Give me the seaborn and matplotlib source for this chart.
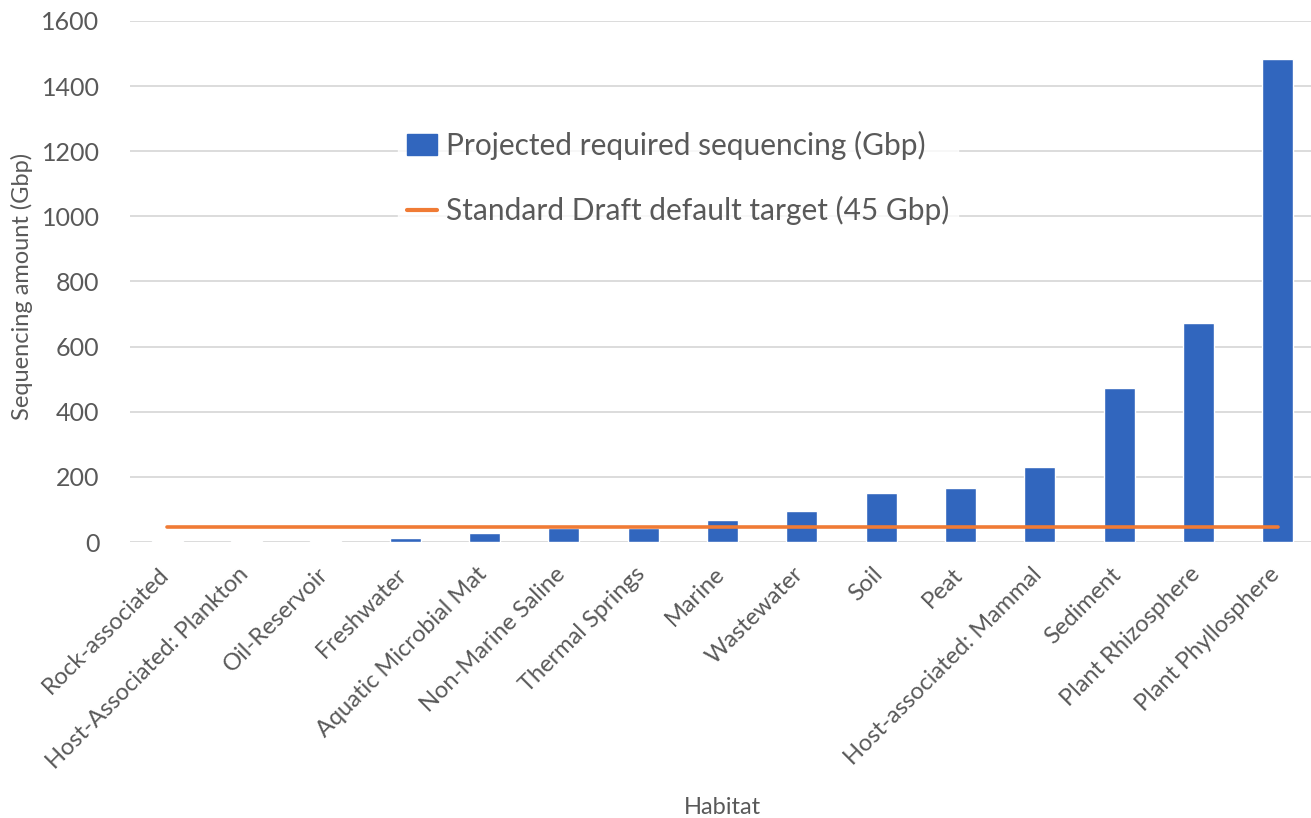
import matplotlib
matplotlib.use("Agg")
import matplotlib.pyplot as plt
import matplotlib.transforms as mtransforms
import seaborn as sns
import pandas as pd
from matplotlib.patches import Patch
from matplotlib.lines import Line2D

# ── Data ──────────────────────────────────────────────────────
habitats = [
    "Rock-associated", "Host-Associated: Plankton", "Oil-Reservoir",
    "Freshwater", "Aquatic Microbial Mat", "Non-Marine Saline",
    "Thermal Springs", "Marine", "Wastewater", "Soil", "Peat",
    "Host-associated: Mammal", "Sediment", "Plant Rhizosphere",
    "Plant Phyllosphere",
]
required_gbp = [3, 3, 3, 12, 28, 43, 44, 69, 94, 151, 166, 230, 474, 674, 1484]
target_gbp = [45] * len(habitats)

BAR_BLUE = "#3166BE"
LINE_ORANGE = "#F07B35"
TEXT_GREY = "#595959"
GRID_GREY = "#D9D9D9"

df = pd.DataFrame({"Habitat": habitats, "Required": required_gbp,
                   "Target": target_gbp})

sns.set_theme(style="white")
plt.rcParams["font.family"] = ["Lato", "DejaVu Sans"]

fig = plt.figure(figsize=(13.11, 8.18), dpi=100)
ax = fig.add_axes([0.0992, 0.3374, 0.9008, 0.637])

sns.barplot(data=df, x="Habitat", y="Required", color=BAR_BLUE,
            width=0.39, saturation=1, ax=ax, zorder=3)
sns.lineplot(data=df, x="Habitat", y="Target", color=LINE_ORANGE,
             linewidth=2.6, ax=ax, zorder=4, sort=False)

ax.set_ylim(0, 1600)
ax.set_xlim(-0.47, 14.42)
ax.set_yticks(range(0, 1601, 200))
ax.yaxis.grid(True, color=GRID_GREY, linewidth=1.3, zorder=0)
ax.set_axisbelow(True)
for s in ax.spines.values():
    s.set_visible(False)

ax.tick_params(axis="y", colors=TEXT_GREY, labelsize=18, length=0, pad=22)
ax.tick_params(axis="x", colors=TEXT_GREY, labelsize=17, length=0, pad=14)
shift = mtransforms.ScaledTranslation(-0.09, -0.02, fig.dpi_scale_trans)
for lbl in ax.get_xticklabels():
    lbl.set_rotation(45)
    lbl.set_ha("right")
    lbl.set_rotation_mode("anchor")
    lbl.set_transform(lbl.get_transform() + shift)

ax.set_ylabel("Sequencing amount (Gbp)", color=TEXT_GREY, fontsize=17)
ax.set_xlabel("Habitat", color=TEXT_GREY, fontsize=17)
ax.xaxis.set_label_coords(0.502, -0.49)
ax.yaxis.set_label_coords(-0.082, 0.49)

handles = [
    Patch(facecolor=BAR_BLUE, edgecolor=BAR_BLUE),
    Line2D([0], [0], color=LINE_ORANGE, linewidth=3),
]
labels = ["Projected required sequencing (Gbp)",
          "Standard Draft default target (45 Gbp)"]
leg = fig.legend(handles, labels, loc="upper left",
                 bbox_to_anchor=(0.292, 0.869), frameon=True,
                 fontsize=21.5, handlelength=1.0, handletextpad=0.3,
                 labelspacing=1.2, borderpad=0.3)
leg.get_frame().set_facecolor("white")
leg.get_frame().set_edgecolor("white")
for t in leg.get_texts():
    t.set_color(TEXT_GREY)

fig.savefig("out.png", dpi=100)
